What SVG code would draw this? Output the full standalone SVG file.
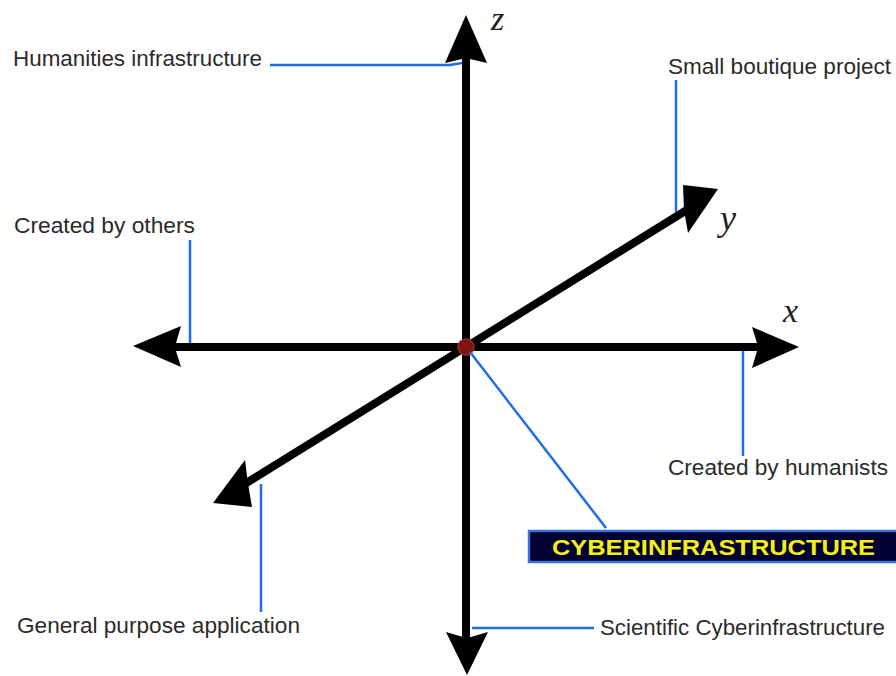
<svg xmlns="http://www.w3.org/2000/svg" width="896" height="676" viewBox="0 0 896 676">
<defs>
<style>
.lbl{font-family:"Liberation Sans",Arial,sans-serif;font-size:22px;fill:#2b2b2b}
.ax{font-family:"Liberation Serif","Times New Roman",serif;font-style:italic;fill:#222}
.lead{stroke:#1f6ee6;stroke-width:2.5;fill:none}
.shaft{stroke:#000;stroke-width:8;fill:none}
.head{fill:#000}
</style>
</defs>
<rect width="896" height="676" fill="#fff"/>
<g id="axes">
<line class="shaft" x1="466" y1="55" x2="466" y2="640"/>
<line class="shaft" x1="172" y1="347" x2="760" y2="347"/>
<line class="shaft" x1="240" y1="487" x2="690" y2="208"/>
<polygon class="head" points="466,15 487,63 470,59 462,59 445,63"/>
<polygon class="head" points="467,675 488,632 471,637 463,637 446,632"/>
<polygon class="head" points="133,346 181,326 176,343 176,351 181,367"/>
<polygon class="head" points="799,347 752,327 757,343 757,351 752,368"/>
<polygon class="head" points="718,189 688,233 684,210 683,185"/>
<polygon class="head" points="213,503 245,460 248,484 252,507"/>
<circle cx="466" cy="347" r="8" fill="#7e1515" stroke="#9c2a2a" stroke-width="1.5"/>
<text class="ax" x="491" y="30" font-size="34">z</text>
<text class="ax" x="720" y="230" font-size="36">y</text>
<text class="ax" x="783" y="322" font-size="34">x</text>
</g>
<g id="connectors">
<polyline class="lead" points="270,65 450,65 462,63"/>
<line class="lead" x1="676" y1="80" x2="676" y2="212"/>
<line class="lead" x1="190" y1="240" x2="190" y2="343"/>
<line class="lead" x1="743" y1="351" x2="743" y2="456"/>
<line class="lead" x1="261" y1="484" x2="261" y2="612"/>
<line class="lead" x1="472" y1="628" x2="594" y2="628"/>
<line class="lead" x1="470" y1="352" x2="606" y2="528"/>
</g>
<g id="humanities-infrastructure"><text class="lbl" x="13" y="66" textLength="249" lengthAdjust="spacingAndGlyphs">Humanities infrastructure</text></g>
<g id="small-boutique-project"><text class="lbl" x="668" y="74" textLength="223" lengthAdjust="spacingAndGlyphs">Small boutique project</text></g>
<g id="created-by-others"><text class="lbl" x="14" y="233" textLength="181" lengthAdjust="spacingAndGlyphs">Created by others</text></g>
<g id="created-by-humanists"><text class="lbl" x="668" y="475" textLength="220" lengthAdjust="spacingAndGlyphs">Created by humanists</text></g>
<g id="general-purpose-application"><text class="lbl" x="17" y="633" textLength="283" lengthAdjust="spacingAndGlyphs">General purpose application</text></g>
<g id="scientific-cyberinfrastructure"><text class="lbl" x="600" y="635" textLength="285" lengthAdjust="spacingAndGlyphs">Scientific Cyberinfrastructure</text></g>
<g id="cyberinfrastructure">
<rect x="529" y="531" width="370" height="31" fill="#000033" stroke="#3a72d8" stroke-width="2.5"/>
<text x="552" y="555" font-family="'Liberation Sans',Arial,sans-serif" font-weight="bold" font-size="22" fill="#f5ef12" textLength="323" lengthAdjust="spacingAndGlyphs">CYBERINFRASTRUCTURE</text>
</g>
</svg>
